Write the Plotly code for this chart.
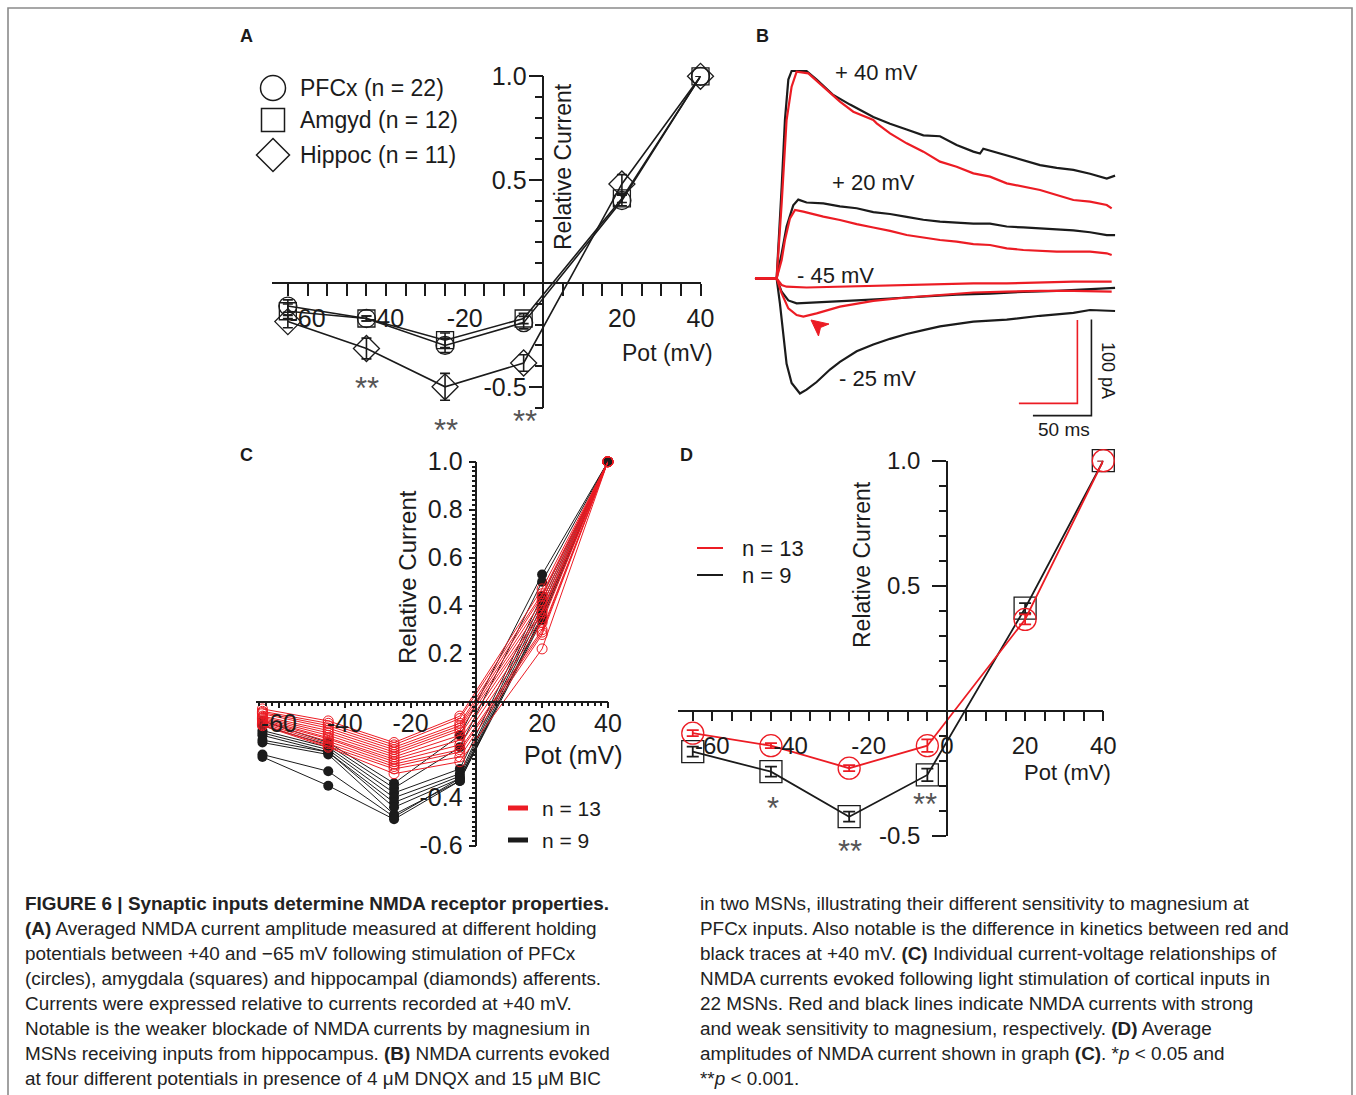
import plotly.graph_objects as go

W, H = 1356, 1095
FONT = "Liberation Sans, Arial, Helvetica, sans-serif"
RED = "#ec1c24"
BLK = "#1b1b1b"
GRAY = "#555555"


def fx(p):
    return p / W


def fy(p):
    return 1 - p / H


# ---------------- data ----------------
pot = [-65, -45, -25, -5, 20, 40]

# Panel A: averaged relative NMDA current (mean, SEM)
pfcx_mean = [-0.11, -0.17, -0.30, -0.19, 0.40, 1.00]
pfcx_sem = [0.03, 0.012, 0.035, 0.03, 0.025, 0.0]
amgyd_mean = [-0.135, -0.17, -0.275, -0.17, 0.41, 1.00]
amgyd_sem = [0.035, 0.012, 0.035, 0.025, 0.02, 0.0]
hippoc_mean = [-0.185, -0.315, -0.50, -0.385, 0.48, 1.00]
hippoc_sem = [0.03, 0.05, 0.065, 0.04, 0.045, 0.0]
a_legend = ["PFCx (n = 22)", "Amgyd (n = 12)", "Hippoc (n = 11)"]

# Panel B: example traces (time ms, current pA)
b40_t = [-18.5, 0, 4.3, 7.1, 10.0, 12.8, 25.6, 34.2, 48.4, 62.7, 82.6, 96.9, 111.1, 125.4, 139.6,
         153.8, 168.1, 173.8, 176.6, 196.6, 210.8, 225.1, 239.3, 253.6, 267.8, 282.1, 289.2]
b40_i = [0, 0, 95, 165, 207, 216, 216, 207, 191, 181, 168, 161, 155, 149, 148,
         139, 132, 130, 135, 128, 123, 118, 115, 113, 109, 104, 107]
r40_t = [-18.5, 0, 4.3, 8.5, 12.8, 17.1, 27.1, 39.9, 54.1, 65.5, 82.6, 85.5, 96.9, 111.1, 125.4,
         139.6, 153.8, 168.1, 182.3, 196.6, 210.8, 225.1, 239.3, 253.6, 267.8, 282.1, 286.3]
r40_i = [0, 0, 90, 190, 230, 248, 246, 230, 212, 200, 190, 186, 174, 162, 152,
         140, 134, 126, 122, 114, 110, 106, 100, 94, 92, 88, 84]
b20_t = [-18.5, 0, 4.3, 8.5, 14.2, 18.5, 25.6, 39.9, 54.1, 68.4, 82.6, 96.9, 111.1, 125.4, 139.6,
         153.8, 168.1, 182.3, 196.6, 210.8, 225.1, 239.3, 253.6, 267.8, 282.1, 289.2]
b20_i = [0, 0, 26, 54, 76, 82, 79, 78, 75, 73, 69, 67, 64, 61, 59,
         58, 57, 57, 54, 53, 52, 51, 50, 48, 45, 45]
r20_t = [-18.5, 0, 4.3, 7.1, 11.4, 15.7, 22.8, 39.9, 54.1, 68.4, 82.6, 96.9, 111.1, 125.4, 139.6,
         153.8, 168.1, 182.3, 196.6, 210.8, 225.1, 239.3, 253.6, 267.8, 282.1, 286.3]
r20_i = [0, 0, 22, 46, 72, 82, 80, 74, 70, 65, 61, 57, 52, 49, 46,
         44, 41, 40, 36, 34, 33, 32, 32, 32, 30, 28]
r45_t = [-18.5, 0, 4.3, 8.5, 25.6, 54.1, 82.6, 111.1, 139.6, 168.1, 196.6, 225.1, 253.6, 286.3]
r45_i = [0, 0, -8, -10, -11, -10, -9, -8, -7, -6, -6, -5, -4, -4]
b45_t = [-18.5, 0, 4.3, 10.0, 17.1, 39.9, 68.4, 96.9, 125.4, 153.8, 182.3, 210.8, 239.3, 267.8, 289.2]
b45_i = [0, 0, -14, -23, -26, -25, -23, -21, -19, -17, -16, -14, -13, -11, -10]
r25_t = [-18.5, 0, 4.3, 10.0, 17.1, 22.8, 34.2, 54.1, 82.6, 111.1, 139.6, 168.1, 196.6, 225.1, 253.6, 286.3]
r25_i = [0, 0, -18, -36, -44, -46, -42, -34, -27, -23, -20, -17, -16, -15, -15, -16]
b25_t = [-18.5, 0, 2.8, 5.7, 8.5, 12.8, 19.9, 25.6, 34.2, 45.6, 54.1, 68.4, 82.6, 96.9, 111.1,
         125.4, 139.6, 168.1, 196.6, 225.1, 253.6, 267.8, 289.2]
b25_i = [0, 0, -26, -61, -89, -109, -120, -116, -108, -95, -87, -76, -69, -63, -58,
         -54, -50, -45, -43, -39, -36, -33, -34]
b_labels = ["+ 40 mV", "+ 20 mV", "- 45 mV", "- 25 mV"]
scale_ms = 50
scale_pa = 100

# Panel C: individual cells (relative current at each potential)
red_cells = [
    [-0.03, -0.08, -0.17, -0.06, 0.47, 1.0],
    [-0.04, -0.09, -0.18, -0.07, 0.45, 1.0],
    [-0.045, -0.10, -0.19, -0.09, 0.44, 1.0],
    [-0.05, -0.11, -0.20, -0.10, 0.42, 1.0],
    [-0.06, -0.12, -0.21, -0.11, 0.40, 1.0],
    [-0.065, -0.13, -0.22, -0.12, 0.38, 1.0],
    [-0.07, -0.14, -0.23, -0.14, 0.37, 1.0],
    [-0.075, -0.15, -0.24, -0.16, 0.35, 1.0],
    [-0.08, -0.155, -0.25, -0.18, 0.33, 1.0],
    [-0.085, -0.165, -0.26, -0.20, 0.30, 1.0],
    [-0.09, -0.175, -0.27, -0.21, 0.29, 1.0],
    [-0.095, -0.185, -0.28, -0.23, 0.28, 1.0],
    [-0.10, -0.19, -0.30, -0.25, 0.22, 1.0],
]
black_cells = [
    [-0.08, -0.17, -0.34, -0.14, 0.53, 1.0],
    [-0.10, -0.18, -0.36, -0.19, 0.50, 1.0],
    [-0.12, -0.19, -0.38, -0.28, 0.44, 1.0],
    [-0.13, -0.20, -0.40, -0.30, 0.42, 1.0],
    [-0.14, -0.21, -0.42, -0.31, 0.40, 1.0],
    [-0.16, -0.21, -0.44, -0.32, 0.38, 1.0],
    [-0.17, -0.22, -0.47, -0.33, 0.36, 1.0],
    [-0.22, -0.29, -0.48, -0.32, 0.35, 1.0],
    [-0.23, -0.35, -0.49, -0.33, 0.34, 1.0],
]
c_legend = ["n = 13", "n = 9"]

# Panel D: averages of C
d_red_mean = [-0.09, -0.14, -0.23, -0.14, 0.365, 1.0]
d_red_sem = [0.012, 0.01, 0.012, 0.025, 0.02, 0.0]
d_blk_mean = [-0.164, -0.244, -0.424, -0.257, 0.41, 1.0]
d_blk_sem = [0.02, 0.02, 0.02, 0.025, 0.02, 0.0]

# significance marks
a_stars = ["**", "**", "**"]
d_stars = ["*", "**", "**"]

caption_left = [
    "<b>FIGURE 6 | Synaptic inputs determine NMDA receptor properties.</b>",
    "<b>(A)</b> Averaged NMDA current amplitude measured at different holding",
    "potentials between +40 and \u221265 mV following stimulation of PFCx",
    "(circles), amygdala (squares) and hippocampal (diamonds) afferents.",
    "Currents were expressed relative to currents recorded at +40 mV.",
    "Notable is the weaker blockade of NMDA currents by magnesium in",
    "MSNs receiving inputs from hippocampus. <b>(B)</b> NMDA currents evoked",
    "at four different potentials in presence of 4 \u03bcM DNQX and 15 \u03bcM BIC",
]
caption_right = [
    "in two MSNs, illustrating their different sensitivity to magnesium at",
    "PFCx inputs. Also notable is the difference in kinetics between red and",
    "black traces at +40 mV. <b>(C)</b> Individual current-voltage relationships of",
    "NMDA currents evoked following light stimulation of cortical inputs in",
    "22 MSNs. Red and black lines indicate NMDA currents with strong",
    "and weak sensitivity to magnesium, respectively. <b>(D)</b> Average",
    "amplitudes of NMDA current shown in graph <b>(C)</b>. *<i>p</i> &lt; 0.05 and",
    "**<i>p</i> &lt; 0.001.",
]

# ---------------- geometry ----------------
GA = dict(ox=543.3, sx=3.93, xr=[-69.0, 40], oy=283.3, sy=207.0, yr=[-0.6, 1.0])
GC = dict(ox=476.3, sx=3.29, xr=[-67.0, 40], oy=701.7, sy=240.0, yr=[-0.6, 1.0])
GD = dict(ox=946.9, sx=3.91, xr=[-68.7, 40], oy=710.7, sy=250.0, yr=[-0.5, 1.0])


def tickfont(sz):
    return dict(family=FONT, size=sz, color=BLK)


def xaxis_cfg(g, vals, text, tlen, mvals=None, mlen=0, standoff=0, fs=25):
    d = dict(domain=[fx(g["ox"] + g["xr"][0] * g["sx"]), fx(g["ox"] + g["xr"][1] * g["sx"])],
             range=g["xr"], anchor="free", position=fy(g["oy"]), showline=True,
             linecolor=BLK, linewidth=1.5, ticks="outside", tickmode="array",
             tickvals=vals, ticktext=text, ticklen=tlen, tickwidth=1.5, tickcolor=BLK,
             showgrid=False, zeroline=False, tickfont=tickfont(fs), automargin=False,
             ticklabelstandoff=standoff, fixedrange=True)
    if mvals:
        d["minor"] = dict(tickmode="array", tickvals=mvals, ticks="outside", ticklen=mlen,
                          tickwidth=1.5, tickcolor=BLK, showgrid=False)
    return d


def yaxis_cfg(g, vals, text, tlen, mvals=None, mlen=0, standoff=0, fs=25):
    d = dict(domain=[fy(g["oy"] - g["yr"][0] * g["sy"]), fy(g["oy"] - g["yr"][1] * g["sy"])],
             range=g["yr"], anchor="free", position=fx(g["ox"]), side="left", showline=True,
             linecolor=BLK, linewidth=1.5, ticks="outside", tickmode="array",
             tickvals=vals, ticktext=text, ticklen=tlen, tickwidth=1.5, tickcolor=BLK,
             showgrid=False, zeroline=False, tickfont=tickfont(fs), automargin=False,
             ticklabelstandoff=standoff, fixedrange=True)
    if mvals:
        d["minor"] = dict(tickmode="array", tickvals=mvals, ticks="outside", ticklen=mlen,
                          tickwidth=1.5, tickcolor=BLK, showgrid=False)
    return d


def lab(v, shown):
    return str(v) if v in shown else ""


fig = go.Figure()

# ---------------- panel A ----------------
a_series = [(pfcx_mean, pfcx_sem, "circle-open", 18),
            (amgyd_mean, amgyd_sem, "square-open", 17),
            (hippoc_mean, hippoc_sem, "diamond-open", 20)]
for (m, e, sym, sz), name in zip(a_series, a_legend):
    fig.add_trace(go.Scatter(x=pot, y=m, xaxis="x", yaxis="y", mode="lines+markers", name=name,
                             line=dict(color=BLK, width=1.6),
                             marker=dict(symbol=sym, size=sz, color=BLK, line=dict(width=1.3, color=BLK)),
                             error_y=dict(type="data", array=e, color=BLK, thickness=1.6, width=5),
                             cliponaxis=False, showlegend=False))

# ---------------- panel C ----------------
for cell in black_cells:
    fig.add_trace(go.Scatter(x=pot, y=cell, xaxis="x2", yaxis="y2", mode="lines+markers",
                             line=dict(color=BLK, width=1),
                             marker=dict(symbol="circle", size=10, color=BLK),
                             cliponaxis=False, showlegend=False))
for cell in red_cells:
    fig.add_trace(go.Scatter(x=pot, y=cell, xaxis="x2", yaxis="y2", mode="lines+markers",
                             line=dict(color=RED, width=1),
                             marker=dict(symbol="circle-open", size=10, color=RED, line=dict(width=1, color=RED)),
                             cliponaxis=False, showlegend=False))

# ---------------- panel D ----------------
fig.add_trace(go.Scatter(x=pot, y=d_blk_mean, xaxis="x3", yaxis="y3", mode="lines+markers",
                         line=dict(color=BLK, width=1.8),
                         marker=dict(symbol="square-open", size=22, color=BLK, line=dict(width=1.3, color="#333")),
                         error_y=dict(type="data", array=d_blk_sem, color=BLK, thickness=1.8, width=6),
                         cliponaxis=False, showlegend=False))
fig.add_trace(go.Scatter(x=pot, y=d_red_mean, xaxis="x3", yaxis="y3", mode="lines+markers",
                         line=dict(color=RED, width=1.8),
                         marker=dict(symbol="circle-open", size=22, color=RED, line=dict(width=1.3, color=RED)),
                         error_y=dict(type="data", array=d_red_sem, color=RED, thickness=1.8, width=6),
                         cliponaxis=False, showlegend=False))

# ---------------- panel B ----------------
for t, i in [(b40_t, b40_i), (b20_t, b20_i), (b45_t, b45_i), (b25_t, b25_i)]:
    fig.add_trace(go.Scatter(x=t, y=i, xaxis="x4", yaxis="y4", mode="lines",
                             line=dict(color=BLK, width=2.2), showlegend=False))
for t, i in [(r40_t, r40_i), (r20_t, r20_i), (r45_t, r45_i), (r25_t, r25_i)]:
    fig.add_trace(go.Scatter(x=t, y=i, xaxis="x4", yaxis="y5", mode="lines",
                             line=dict(color=RED, width=2.2), showlegend=False))
bx1, by0 = 269.0, -143.0
fig.add_trace(go.Scatter(x=[bx1 - scale_ms, bx1, bx1], y=[by0, by0, by0 + scale_pa],
                         xaxis="x4", yaxis="y4", mode="lines", line=dict(color=BLK, width=1.6),
                         showlegend=False))
rx1, ry0 = 257.0, -150.0
fig.add_trace(go.Scatter(x=[rx1 - scale_ms, rx1, rx1], y=[ry0, ry0, ry0 + scale_pa],
                         xaxis="x4", yaxis="y5", mode="lines", line=dict(color=RED, width=1.6),
                         showlegend=False))

# ---------------- axes ----------------
lay = dict(width=W, height=H, autosize=False, margin=dict(l=0, r=0, t=0, b=0, pad=0, autoexpand=False),
           paper_bgcolor="white", plot_bgcolor="rgba(0,0,0,0)", showlegend=False,
           font=dict(family=FONT, color=BLK))

ax_a_vals = list(range(-65, 41, 5))
lay["xaxis"] = xaxis_cfg(GA, ax_a_vals, [lab(v, [-60, -40, -20, 20, 40]) for v in ax_a_vals], 12,
                         standoff=1, fs=25)
lay["yaxis"] = yaxis_cfg(GA, [-0.5, 0.5, 1.0], ["-0.5", "0.5", "1.0"], 14,
                         mvals=[round(-0.6 + 0.1 * k, 2) for k in range(17)], mlen=8, standoff=-3, fs=25)

cx_major = list(range(-60, 41, 10))
lay["xaxis2"] = xaxis_cfg(GC, cx_major, [lab(v, [-60, -40, -20, 20, 40]) for v in cx_major], 6,
                          mvals=list(range(-66, 41, 2)), mlen=4, standoff=-6, fs=25)
cy_major = [round(-0.6 + 0.2 * k, 1) for k in range(9)]
cy_text = ["-0.6", "-0.4", "", "", "0.2", "0.4", "0.6", "0.8", "1.0"]
lay["yaxis2"] = yaxis_cfg(GC, cy_major, cy_text, 7,
                          mvals=[round(-0.6 + 0.02 * k, 2) for k in range(81)], mlen=4, standoff=1, fs=25)

dx_vals = list(range(-65, 41, 5))
lay["xaxis3"] = xaxis_cfg(GD, dx_vals, [lab(v, [-60, -40, -20, 0, 20, 40]) for v in dx_vals], 10,
                          standoff=4, fs=24)
lay["yaxis3"] = yaxis_cfg(GD, [-0.5, 0.5, 1.0], ["-0.5", "0.5", "1.0"], 14,
                          mvals=[round(-0.5 + 0.1 * k, 2) for k in range(16)], mlen=7, standoff=7, fs=24)

lay["xaxis4"] = dict(domain=[fx(740), fx(1140)], range=[-31.3, 310.5], visible=False, fixedrange=True)
lay["yaxis4"] = dict(domain=[fy(440), fy(20)], range=[-168.4, 269.1], visible=False, fixedrange=True,
                     anchor="x4")
lay["yaxis5"] = dict(domain=[fy(440), fy(20)], range=[-194.0, 310.0], visible=False, fixedrange=True,
                     anchor="x4", overlaying="y4")
fig.update_layout(**lay)

# ---------------- annotations ----------------
ann = []


def txt(x, y, s, size, xanchor="center", yanchor="middle", angle=0, color=BLK, bold=False):
    ann.append(dict(x=fx(x), y=fy(y), xref="paper", yref="paper", text=(f"<b>{s}</b>" if bold else s),
                    showarrow=False, xanchor=xanchor, yanchor=yanchor, textangle=angle,
                    font=dict(family=FONT, size=size, color=color)))


for s, x, y in [("A", 246, 36), ("B", 762, 36), ("C", 246, 455), ("D", 686, 455)]:
    txt(x, y, s, 18, bold=True)

txt(563, 167, "Relative Current", 23, angle=-90)
txt(667, 353, "Pot (mV)", 23)
txt(407, 577, "Relative Current", 24, angle=-90)
txt(573, 755, "Pot (mV)", 25)
txt(862, 565, "Relative Current", 23, angle=-90)
txt(1067, 772, "Pot (mV)", 22)

for s, y in zip(a_legend, [88, 120, 155]):
    txt(298, y, s, 23, xanchor="left")
for s, y in zip(c_legend, [808, 840]):
    txt(540, y, s, 21, xanchor="left")
for s, y in zip(c_legend, [548, 575]):
    txt(740, y, s, 22, xanchor="left")

for s, (x, y) in zip(b_labels, [(833, 73), (830, 183), (795, 275), (837, 378)]):
    txt(x, y, s, 22, xanchor="left")
txt(1064, 429, f"{scale_ms} ms", 19)
txt(1108, 370, f"{scale_pa} pA", 18, angle=90)

for s, (x, y) in zip(a_stars, [(367, 388), (446, 430), (525, 421)]):
    txt(x, y, s, 31, color=GRAY)
for s, (x, y) in zip(d_stars, [(773, 808), (850, 851), (925, 804)]):
    txt(x, y, s, 31, color=GRAY)

for k, s in enumerate(caption_left):
    txt(23, 903 + 25.1 * k, s, 18.9, xanchor="left", color="#222")
for k, s in enumerate(caption_right):
    txt(698, 903 + 25.1 * k, s, 18.9, xanchor="left", color="#222")

fig.update_layout(annotations=ann)

# ---------------- shapes ----------------
shapes = []
shapes.append(dict(type="rect", xref="paper", yref="paper", x0=fx(8), x1=fx(1352), y0=fy(1120), y1=fy(8),
                   line=dict(color="#8a8a8a", width=1.6), layer="below"))
cx0 = 273
shapes.append(dict(type="circle", xref="paper", yref="paper", x0=fx(cx0 - 12.5), x1=fx(cx0 + 12.5),
                   y0=fy(88 + 12.5), y1=fy(88 - 12.5), line=dict(color=BLK, width=1.5)))
shapes.append(dict(type="rect", xref="paper", yref="paper", x0=fx(cx0 - 11.5), x1=fx(cx0 + 11.5),
                   y0=fy(120 + 11.5), y1=fy(120 - 11.5), line=dict(color=BLK, width=1.5)))
dcx, dcy, dr = cx0, 155, 16.5
shapes.append(dict(type="path", xref="paper", yref="paper",
                   path=(f"M {fx(dcx)} {fy(dcy - dr)} L {fx(dcx + dr)} {fy(dcy)} "
                         f"L {fx(dcx)} {fy(dcy + dr)} L {fx(dcx - dr)} {fy(dcy)} Z"),
                   line=dict(color=BLK, width=1.5)))
for col, y in [(RED, 808), (BLK, 840)]:
    shapes.append(dict(type="line", xref="paper", yref="paper", x0=fx(508), x1=fx(528), y0=fy(y), y1=fy(y),
                       line=dict(color=col, width=5)))
for col, y in [(RED, 548), (BLK, 575)]:
    shapes.append(dict(type="line", xref="paper", yref="paper", x0=fx(697), x1=fx(723), y0=fy(y), y1=fy(y),
                       line=dict(color=col, width=2)))
tip, b1, nt, b2 = (811, 320), (818.5, 336), (820.5, 327.5), (829, 324)
shapes.append(dict(type="path", xref="paper", yref="paper",
                   path=(f"M {fx(tip[0])} {fy(tip[1])} L {fx(b1[0])} {fy(b1[1])} "
                         f"L {fx(nt[0])} {fy(nt[1])} L {fx(b2[0])} {fy(b2[1])} Z"),
                   fillcolor=RED, line=dict(color=RED, width=1)))
fig.update_layout(shapes=shapes)

# page without default body margin so the 1356x1095 figure fills the window exactly
fig.write_html("out.html", config={"displayModeBar": False},
               post_script="document.body.style.margin='0';document.body.style.overflow='hidden';")
